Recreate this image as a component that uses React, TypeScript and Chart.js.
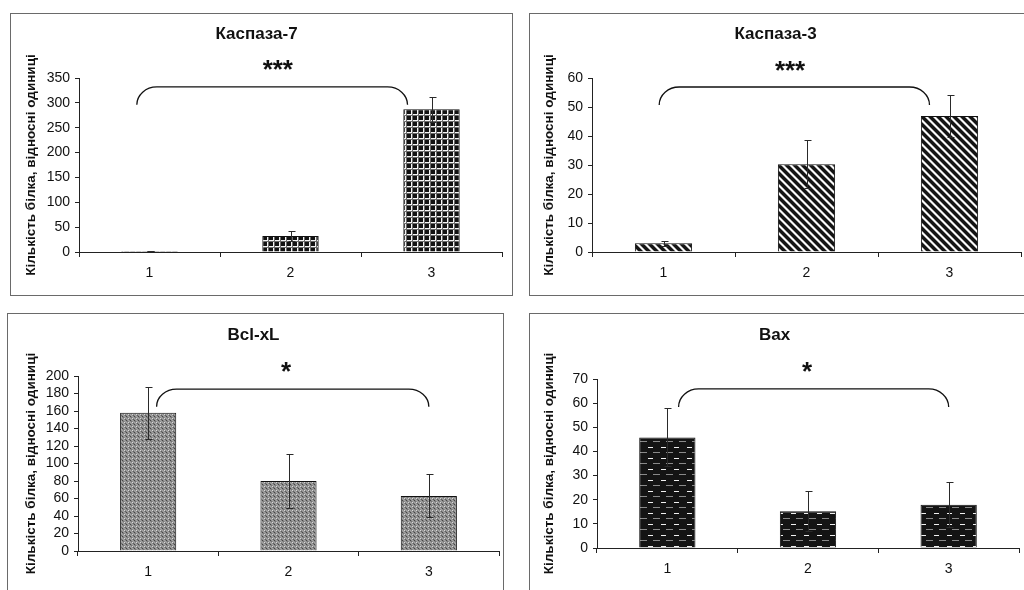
import React, { useEffect, useRef } from "react";
import { Chart, registerables } from "chart.js";

Chart.register(...registerables);

// ---------- data ----------
const categories = ["1", "2", "3"];
const yAxisLabel = "Кількість білка, відносні одиниці";

const casp7Title = "Каспаза-7";
const casp7Values = [2, 32, 287];
const casp7Errors = [0.6, 10, 25];
const casp7Axis = [0, 350, 50]; // min, max, step
const casp7Bracket = [-0.09, 1.83, 332, 296]; // x from, x to (category index), y top, y end
const casp7Star = "***";
const casp7StarAt = [0.91, 370];

const casp3Title = "Каспаза-3";
const casp3Values = [3.0, 30.3, 46.9];
const casp3Errors = [0.8, 8.3, 7.4];
const casp3Axis = [0, 60, 10];
const casp3Bracket = [-0.03, 1.86, 56.9, 50.7];
const casp3Star = "***";
const casp3StarAt = [0.885, 63.4];

const bclTitle = "Bcl-xL";
const bclValues = [158, 80, 63];
const bclErrors = [30, 31, 24.5];
const bclAxis = [0, 200, 20];
const bclBracket = [0.06, 2.0, 185, 165];
const bclStar = "*";
const bclStarAt = [0.983, 207];

const baxTitle = "Bax";
const baxValues = [45.8, 15.2, 17.9];
const baxErrors = [12, 8.3, 9.4];
const baxAxis = [0, 70, 10];
const baxBracket = [0.08, 2.0, 65.9, 58.4];
const baxStar = "*";
const baxStarAt = [0.993, 73.7];

// ---------- styling / layout ----------
const FONT = "'Liberation Sans', Arial, Helvetica, sans-serif";
const INK = "#111";

type PanelDef = {
  title: string;
  values: number[];
  errors: number[];
  axis: number[];
  bracket: number[];
  star: string;
  starAt: number[];
  pattern: string;
  box: { left: number; top: number; width: number; height: number };
  yAxisWidth: number;
  rightPad: number;
  xAxisHeight: number;
  titlePad: [number, number];
  yTitlePad: number;
};

const panels: PanelDef[] = [
  {
    title: casp7Title, values: casp7Values, errors: casp7Errors, axis: casp7Axis,
    bracket: casp7Bracket, star: casp7Star, starAt: casp7StarAt, pattern: "grid",
    box: { left: 10, top: 13, width: 503, height: 283 },
    yAxisWidth: 68, rightPad: 10, xAxisHeight: 43, titlePad: [10, 33.6], yTitlePad: 12,
  },
  {
    title: casp3Title, values: casp3Values, errors: casp3Errors, axis: casp3Axis,
    bracket: casp3Bracket, star: casp3Star, starAt: casp3StarAt, pattern: "stripes",
    box: { left: 529, top: 13, width: 510, height: 283 },
    yAxisWidth: 62, rightPad: 17, xAxisHeight: 43, titlePad: [10, 33.6], yTitlePad: 11,
  },
  {
    title: bclTitle, values: bclValues, errors: bclErrors, axis: bclAxis,
    bracket: bclBracket, star: bclStar, starAt: bclStarAt, pattern: "dots",
    box: { left: 7, top: 313, width: 497, height: 290 },
    yAxisWidth: 70, rightPad: 4, xAxisHeight: 51, titlePad: [11, 30.6], yTitlePad: 15,
  },
  {
    title: baxTitle, values: baxValues, errors: baxErrors, axis: baxAxis,
    bracket: baxBracket, star: baxStar, starAt: baxStarAt, pattern: "dashes",
    box: { left: 529, top: 313, width: 510, height: 290 },
    yAxisWidth: 67, rightPad: 19, xAxisHeight: 54, titlePad: [11, 33.6], yTitlePad: 11,
  },
];

function makePattern(kind: string): CanvasPattern | string {
  const c = document.createElement("canvas");
  let w = 4, h = 4;
  if (kind === "grid") { w = 6; h = 6; }
  if (kind === "stripes") { w = 8; h = 8; }
  if (kind === "dots") { w = 4; h = 4; }
  if (kind === "dashes") { w = 13; h = 11; }
  c.width = w; c.height = h;
  const g = c.getContext("2d")!;
  if (kind === "grid") {
    g.fillStyle = "#121212"; g.fillRect(0, 0, w, h);
    g.fillStyle = "#f4f4f4"; g.fillRect(4, 0, 1, h); g.fillRect(0, 4, w, 1);
    g.fillStyle = "#6a6a6a"; g.fillRect(5, 0, 1, h); g.fillRect(0, 5, w, 1);
  } else if (kind === "stripes") {
    const img = g.createImageData(w, h);
    for (let y = 0; y < h; y++) {
      for (let x = 0; x < w; x++) {
        const d = (((x - y) % 8) + 8) % 8;
        const v = d < 4 ? 20 : d === 4 || d === 7 ? 140 : 250;
        const k = (y * w + x) * 4;
        img.data[k] = v; img.data[k + 1] = v; img.data[k + 2] = v; img.data[k + 3] = 255;
      }
    }
    g.putImageData(img, 0, 0);
  } else if (kind === "dots") {
    const vals = [
      [215, 140, 165, 140],
      [140, 95, 140, 165],
      [165, 140, 70, 140],
      [140, 165, 140, 115],
    ];
    const img = g.createImageData(w, h);
    for (let y = 0; y < h; y++) {
      for (let x = 0; x < w; x++) {
        const v = vals[y][x];
        const k = (y * w + x) * 4;
        img.data[k] = v; img.data[k + 1] = v; img.data[k + 2] = v; img.data[k + 3] = 255;
      }
    }
    g.putImageData(img, 0, 0);
  } else if (kind === "dashes") {
    g.fillStyle = "#141414"; g.fillRect(0, 0, w, h);
    g.fillStyle = "#f2f2f2"; g.fillRect(1, 1, 5, 1);
    g.fillStyle = "#8a8a8a"; g.fillRect(6, 6, 7, 1);
  }
  return g.createPattern(c, "repeat") || "#777";
}

function Panel({ p }: { p: PanelDef }) {
  const ref = useRef<HTMLCanvasElement>(null);
  useEffect(() => {
    const canvas = ref.current!;
    const pattern = makePattern(p.pattern);
    const overlay = {
      id: "overlay",
      afterDatasetsDraw(chart: any) {
        const { ctx } = chart;
        const xs = chart.scales.x;
        const ys = chart.scales.y;
        const meta = chart.getDatasetMeta(0);
        ctx.save();
        // error bars
        ctx.strokeStyle = "#2a2a2a";
        ctx.lineWidth = 1;
        meta.data.forEach((bar: any, i: number) => {
          const x = Math.round(bar.x) + 0.5;
          const yT = Math.round(ys.getPixelForValue(p.values[i] + p.errors[i])) + 0.5;
          const yB = Math.round(ys.getPixelForValue(p.values[i] - p.errors[i])) + 0.5;
          ctx.beginPath();
          ctx.moveTo(x, yT); ctx.lineTo(x, yB);
          ctx.moveTo(x - 3, yT); ctx.lineTo(x + 4, yT);
          ctx.moveTo(x - 3, yB); ctx.lineTo(x + 4, yB);
          ctx.stroke();
        });
        // significance bracket
        const x1 = xs.getPixelForValue(p.bracket[0]);
        const x2 = xs.getPixelForValue(p.bracket[1]);
        const yTop = ys.getPixelForValue(p.bracket[2]);
        const yEnd = ys.getPixelForValue(p.bracket[3]);
        const cw = 20;
        const hh = yEnd - yTop;
        const k = 0.5523;
        ctx.strokeStyle = "#111";
        ctx.lineWidth = 1.3;
        ctx.beginPath();
        ctx.moveTo(x1, yEnd);
        ctx.bezierCurveTo(x1, yEnd - k * hh, x1 + cw - k * cw, yTop, x1 + cw, yTop);
        ctx.lineTo(x2 - cw, yTop);
        ctx.bezierCurveTo(x2 - cw + k * cw, yTop, x2, yEnd - k * hh, x2, yEnd);
        ctx.stroke();
        // stars
        const sx = xs.getPixelForValue(p.starAt[0]);
        const sy = ys.getPixelForValue(p.starAt[1]);
        const fs = 26;
        ctx.fillStyle = "#111";
        ctx.font = `bold ${fs}px ${FONT}`;
        ctx.textAlign = "center";
        ctx.textBaseline = "alphabetic";
        ctx.fillText(p.star, sx, sy + 0.4 * fs);
        ctx.restore();
      },
    };

    const chart = new Chart(canvas, {
      type: "bar",
      data: {
        labels: categories,
        datasets: [
          {
            data: p.values,
            backgroundColor: pattern as any,
            borderColor: "#111",
            borderWidth: 1,
            barPercentage: 0.4,
            categoryPercentage: 1,
          },
        ],
      },
      options: {
        responsive: false,
        animation: false,
        devicePixelRatio: 1,
        layout: { padding: { left: 0, right: p.rightPad, top: 0, bottom: 0 } },
        plugins: {
          legend: { display: false },
          tooltip: { enabled: false },
          title: {
            display: true,
            text: p.title,
            color: INK,
            font: { family: FONT, size: 17, weight: "bold", lineHeight: 1.2 },
            padding: { top: p.titlePad[0], bottom: p.titlePad[1] },
          },
        },
        scales: {
          x: {
            type: "category",
            offset: true,
            grid: {
              display: true,
              drawOnChartArea: false,
              drawTicks: true,
              tickLength: 5,
              offset: true,
              color: "#222",
            },
            border: { display: true, color: "#222", width: 1 },
            ticks: { color: INK, font: { family: FONT, size: 14 }, padding: 8, maxRotation: 0 },
            afterFit: (s: any) => { s.height = p.xAxisHeight; },
          },
          y: {
            min: p.axis[0],
            max: p.axis[1],
            grid: {
              display: true,
              drawOnChartArea: false,
              drawTicks: true,
              tickLength: 4,
              color: "#222",
            },
            border: { display: true, color: "#222", width: 1 },
            ticks: {
              stepSize: p.axis[2],
              autoSkip: false,
              color: INK,
              font: { family: FONT, size: 14 },
              padding: 5,
            },
            title: {
              display: true,
              text: yAxisLabel,
              color: INK,
              font: { family: FONT, size: 13.5, weight: "bold", lineHeight: 1.2 },
              padding: { top: p.yTitlePad, bottom: 0 },
            },
            afterFit: (s: any) => { s.width = p.yAxisWidth; },
          },
        },
      } as any,
      plugins: [overlay],
    });
    return () => chart.destroy();
  }, [p]);

  const { left, top, width, height } = p.box;
  return (
    <div
      style={{
        position: "absolute",
        left,
        top,
        width,
        height,
        boxSizing: "border-box",
        border: "1px solid #6a6a6a",
        background: "#fff",
      }}
    >
      <canvas ref={ref} width={width - 2} height={height - 2} style={{ display: "block" }} />
    </div>
  );
}

export default function App() {
  return (
    <div
      style={{
        position: "fixed",
        left: 0,
        top: 0,
        width: 1024,
        height: 590,
        overflow: "hidden",
        background: "#fff",
      }}
    >
      {panels.map((p, i) => (
        <Panel key={i} p={p} />
      ))}
    </div>
  );
}
